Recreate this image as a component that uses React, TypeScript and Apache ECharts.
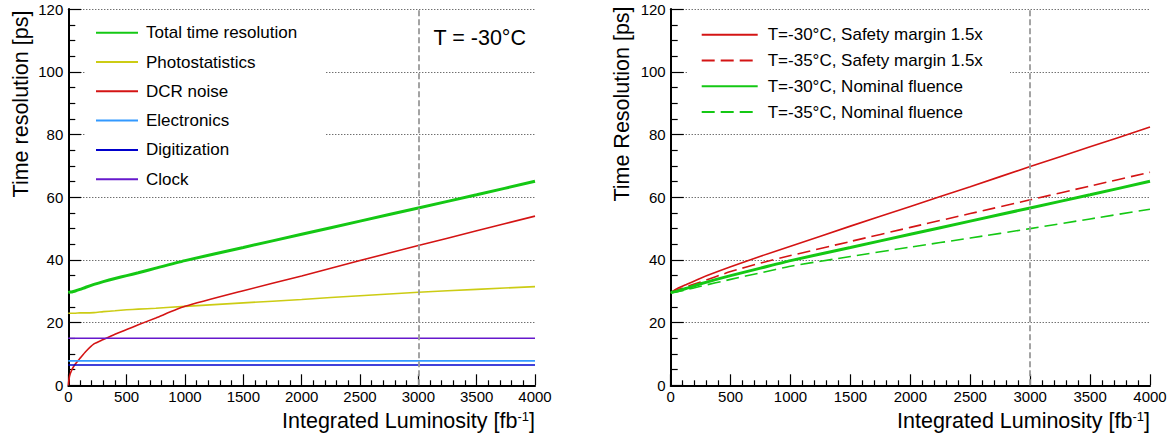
import React, { useEffect, useRef } from 'react';
import * as echarts from 'echarts';

// ---- Left panel data (T = -30°C breakdown) ----
const LUMI_L = [0, 10, 30, 60, 100, 150, 220, 300, 400, 500, 600, 750, 1000, 1500, 2000, 2500, 3000, 3500, 4000];
const TOTAL = [29.6, 29.7, 29.8, 30.1, 30.6, 31.3, 32.2, 33.1, 34.1, 35.0, 35.9, 37.4, 39.8, 44.0, 48.2, 52.4, 56.6, 60.8, 65.1];
const PHOTO = [23.0, 23.0, 23.0, 23.0, 23.1, 23.1, 23.2, 23.5, 23.8, 24.1, 24.3, 24.6, 25.2, 26.3, 27.4, 28.6, 29.7, 30.6, 31.5];
const DCR = [0, 2.8, 4.9, 6.8, 8.6, 10.8, 13.2, 14.6, 16.3, 17.8, 19.3, 21.5, 25.2, 30.2, 34.9, 39.8, 44.6, 49.3, 54.0];
const LUMI_FLAT = [0, 4000];
const ELEC = [7.8, 7.8];
const DIGI = [6.5, 6.5];
const CLOCK = [15.0, 15.0];
const LEFT_NAMES = ['Total time resolution', 'Photostatistics', 'DCR noise', 'Electronics', 'Digitization', 'Clock'];

// ---- Right panel data ----
const LUMI_R = [0, 40, 120, 250, 500, 750, 1000, 1500, 2000, 2500, 3000, 3500, 4000];
const SAFE_30 = [29.5, 30.6, 32.0, 34.2, 37.8, 41.2, 44.4, 50.8, 57.1, 63.4, 69.8, 76.1, 82.4];
const SAFE_35 = [29.5, 30.3, 31.3, 33.0, 36.3, 39.0, 41.4, 45.9, 50.4, 54.8, 59.2, 63.6, 68.0];
const NOM_30 = [29.6, 29.9, 30.8, 32.4, 35.0, 37.4, 39.8, 44.0, 48.2, 52.4, 56.6, 60.8, 65.1];
const NOM_35 = [29.5, 29.8, 30.4, 31.6, 33.8, 35.9, 38.0, 41.1, 44.1, 47.0, 50.0, 53.1, 56.2];
const RIGHT_NAMES = [
  'T=-30°C, Safety margin 1.5x',
  'T=-35°C, Safety margin 1.5x',
  'T=-30°C, Nominal fluence',
  'T=-35°C, Nominal fluence',
];

const MARK_LUMI = 3000;
const X_MIN = 0, X_MAX = 4000, X_STEP = 500;
const Y_MIN = 0, Y_MAX = 120, Y_STEP = 20;

const FONT = '"Liberation Sans", Arial, Helvetica, sans-serif';
const GREEN = '#14c814';
const YELLOW = '#cccc14';
const RED = '#d41414';
const LBLUE = '#3399ff';
const DBLUE = '#0000cc';
const PURPLE = '#6619cc';

function mkLine(name: string, xs: number[], ys: number[], color: string, width: number, type: any, idx: number, extra: any = {}) {
  return {
    type: 'line',
    name,
    xAxisIndex: idx,
    yAxisIndex: idx,
    data: xs.map((x, i) => [x, ys[i]]),
    symbol: 'none',
    showSymbol: false,
    silent: true,
    lineStyle: { color, width, type },
    itemStyle: { color },
    ...extra,
  };
}

const SMOOTH = { smooth: 0.2 };

function markAt() {
  return {
    markLine: {
      silent: true,
      symbol: 'none',
      label: { show: false },
      lineStyle: { color: '#9a9a9a', width: 1.8, type: [6, 3] },
      data: [{ xAxis: MARK_LUMI }],
    },
  };
}

const plainNum = (v: number) => String(v);

function xAxisOpt(gridIndex: number) {
  return {
    type: 'value',
    gridIndex,
    min: X_MIN,
    max: X_MAX,
    interval: X_STEP,
    axisLine: { show: true, onZero: false, lineStyle: { color: '#000', width: 2 } },
    axisTick: { show: true, inside: true, length: 11, lineStyle: { color: '#000', width: 1.2 } },
    minorTick: { show: true, splitNumber: 5, length: 5, lineStyle: { color: '#000', width: 1.2 } },
    axisLabel: { color: '#000', fontSize: 15, margin: 4, fontFamily: FONT, formatter: plainNum },
    splitLine: { show: false },
  };
}

function yAxisOpt(gridIndex: number) {
  return {
    type: 'value',
    gridIndex,
    min: Y_MIN,
    max: Y_MAX,
    interval: Y_STEP,
    axisLine: { show: true, onZero: false, lineStyle: { color: '#000', width: 2 } },
    axisTick: { show: true, inside: true, length: 13, lineStyle: { color: '#000', width: 1.2 } },
    minorTick: { show: true, splitNumber: 4, length: 7, lineStyle: { color: '#000', width: 1.2 } },
    axisLabel: { color: '#000', fontSize: 15, margin: 5, fontFamily: FONT, formatter: plainNum },
    splitLine: { show: true, lineStyle: { color: '#333', width: 1, type: [1, 2] } },
  };
}

function borderAxis(gridIndex: number) {
  return {
    type: 'value',
    gridIndex,
    position: 'right',
    min: Y_MIN,
    max: Y_MAX,
    axisLine: { show: true, lineStyle: { color: '#000', width: 2 } },
    axisTick: { show: false },
    axisLabel: { show: false },
    splitLine: { show: false },
  };
}

export default function App() {
  const ref = useRef<HTMLDivElement>(null);
  useEffect(() => {
    if (!ref.current) return;
    const chart = echarts.init(ref.current, null, { renderer: 'svg' });
    const titleStyle = { fontSize: 21.5, fontFamily: FONT, fill: '#000' };
    const xTitle = (x: number) => ({
      type: 'text',
      z: 10,
      x,
      y: 421,
      style: {
        text: '{m|Integrated Luminosity [fb}{s|-1}{m|]}',
        align: 'right',
        verticalAlign: 'middle',
        fill: '#000',
        fontFamily: FONT,
        rich: {
          m: { fontSize: 21.5, fontFamily: FONT, fill: '#000' },
          s: { fontSize: 13, fontFamily: FONT, fill: '#000', verticalAlign: 'top', padding: [0, 0, 10, 0] },
        },
      },
    });
    const yTitle = (x: number, text: string) => ({
      type: 'text',
      z: 10,
      x,
      y: 104,
      rotation: Math.PI / 2,
      style: { text, align: 'center', verticalAlign: 'middle', ...titleStyle },
    });
    const legendBase = {
      orient: 'vertical',
      padding: 0,
      itemHeight: 18,
      selectedMode: false,
      itemStyle: { opacity: 0, borderWidth: 0 },
    };
    chart.setOption({
      animation: false,
      backgroundColor: '#fff',
      grid: [
        { left: 68.3, top: 9.3, width: 466.7, height: 376, outerBoundsMode: 'none', containLabel: false },
        { left: 670.7, top: 9.3, width: 479.3, height: 376, outerBoundsMode: 'none', containLabel: false },
      ],
      xAxis: [xAxisOpt(0), xAxisOpt(1)],
      yAxis: [yAxisOpt(0), yAxisOpt(1), borderAxis(0), borderAxis(1)],
      legend: [
        {
          ...legendBase,
          data: LEFT_NAMES,
          left: 95,
          top: 23.7,
          itemWidth: 42,
          itemGap: 11.3,
          textStyle: { fontSize: 17, lineHeight: 18, color: '#000', fontFamily: FONT, padding: [0, 0, 0, 3] },
        },
        {
          ...legendBase,
          data: RIGHT_NAMES,
          left: 700.7,
          top: 25.7,
          itemWidth: 56,
          itemGap: 7.8,
          textStyle: { fontSize: 17, lineHeight: 18, color: '#000', fontFamily: FONT, padding: [0, 0, 0, 5] },
        },
      ],
      graphic: [
        { type: 'rect', z: 1, silent: true, shape: { x: 85, y: 12, width: 240, height: 182 }, style: { fill: '#fff' } },
        { type: 'rect', z: 1, silent: true, shape: { x: 688, y: 12, width: 322, height: 116 }, style: { fill: '#fff' } },
        yTitle(20.5, 'Time resolution [ps]'),
        yTitle(622, 'Time Resolution [ps]'),
        xTitle(535),
        xTitle(1150),
        {
          type: 'text',
          z: 10,
          x: 526,
          y: 37.5,
          style: { text: 'T = -30°C', align: 'right', verticalAlign: 'middle', ...titleStyle },
        },
      ],
      series: [
        mkLine(LEFT_NAMES[0], LUMI_L, TOTAL, GREEN, 3, 'solid', 0, { ...SMOOTH, ...markAt() }),
        mkLine(LEFT_NAMES[1], LUMI_L, PHOTO, YELLOW, 1.6, 'solid', 0, SMOOTH),
        mkLine(LEFT_NAMES[2], LUMI_L, DCR, RED, 1.6, 'solid', 0, SMOOTH),
        mkLine(LEFT_NAMES[3], LUMI_FLAT, ELEC, LBLUE, 1.6, 'solid', 0),
        mkLine(LEFT_NAMES[4], LUMI_FLAT, DIGI, DBLUE, 1.6, 'solid', 0),
        mkLine(LEFT_NAMES[5], LUMI_FLAT, CLOCK, PURPLE, 1.6, 'solid', 0),
        mkLine(RIGHT_NAMES[0], LUMI_R, SAFE_30, RED, 1.6, 'solid', 1, { ...SMOOTH, ...markAt() }),
        mkLine(RIGHT_NAMES[1], LUMI_R, SAFE_35, RED, 1.6, [13, 6], 1, SMOOTH),
        mkLine(RIGHT_NAMES[2], LUMI_R, NOM_30, GREEN, 3, 'solid', 1, SMOOTH),
        mkLine(RIGHT_NAMES[3], LUMI_R, NOM_35, GREEN, 1.6, [13, 6], 1, SMOOTH),
      ],
    });
    return () => chart.dispose();
  }, []);
  return <div ref={ref} style={{ position: 'absolute', left: 0, top: 0, width: 1173, height: 440 }} />;
}
